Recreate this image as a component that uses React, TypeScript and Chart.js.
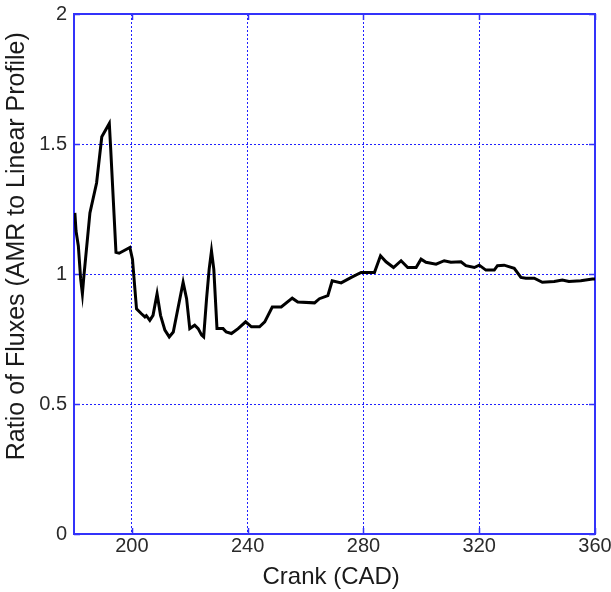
import React, { useEffect, useRef } from "react";
import { Chart, registerables } from "chart.js";

Chart.register(...registerables);

// Crank angle (CAD)
const crankAngles = [
  180.3, 180.7, 181.5, 182.3, 182.9, 183.4, 185.5, 187.8, 189.6, 192.2,
  192.7, 194.5, 195.6, 199.3, 200.2, 201.6, 203.3, 204.5, 205.0, 206.2,
  207.3, 208.7, 209.9, 211.4, 212.9, 214.3, 217.7, 218.9, 220.0, 221.7,
  222.9, 224.1, 224.8, 225.8, 226.7, 227.5, 228.3, 229.4, 231.5, 232.6,
  234.4, 236.7, 239.3, 241.3, 244.1, 245.9, 248.5, 251.6, 255.4, 257.3,
  263.1, 264.8, 267.7, 269.2, 272.3, 275.8, 279.2, 283.8, 285.9, 287.8,
  290.4, 293.0, 295.3, 298.2, 299.9, 301.6, 305.1, 307.9, 310.2, 313.7,
  315.4, 318.3, 320.0, 322.3, 325.2, 326.3, 328.6, 332.1, 334.4, 336.1,
  339.0, 341.8, 345.9, 348.7, 351.0, 355.1, 359.1, 360.0,
];

// Ratio of fluxes (AMR to linear profile)
const fluxRatios = [
  1.235, 1.165, 1.108, 0.981, 0.924, 0.99, 1.235, 1.35, 1.528, 1.579,
  1.477, 1.083, 1.08, 1.102, 1.057, 0.866, 0.847, 0.835, 0.84, 0.822,
  0.841, 0.924, 0.841, 0.784, 0.758, 0.777, 0.968, 0.905, 0.79, 0.803,
  0.79, 0.765, 0.758, 0.905, 1.019, 1.089, 1.019, 0.79, 0.79, 0.777,
  0.771, 0.79, 0.816, 0.797, 0.797, 0.816, 0.873, 0.873, 0.907, 0.892,
  0.889, 0.905, 0.917, 0.974, 0.966, 0.987, 1.006, 1.006, 1.07, 1.047,
  1.025, 1.051, 1.025, 1.025, 1.057, 1.045, 1.038, 1.051, 1.045, 1.047,
  1.032, 1.025, 1.034, 1.015, 1.015, 1.032, 1.034, 1.022, 0.987, 0.984,
  0.984, 0.968, 0.971, 0.977, 0.971, 0.974, 0.981, 0.981,
];

const xTickValues = [200, 240, 280, 320, 360];
const yTickValues = [0, 0.5, 1, 1.5, 2];
const xRange = [180, 360];
const yRange = [0, 2];

const xTitle = "Crank (CAD)";
const yTitle = "Ratio of Fluxes (AMR to Linear Profile)";

const AXIS_BLUE = "rgb(50,50,250)";
const GRID_BLUE = "rgb(30,30,255)";
const FONT = "'Liberation Sans', Arial, Helvetica, sans-serif";

const boxPlugin = {
  id: "matlabBox",
  beforeDatasetsDraw(chart: any) {
    const { ctx, chartArea: a, scales } = chart;
    ctx.save();
    ctx.strokeStyle = AXIS_BLUE;
    ctx.lineWidth = 1.5;
    ctx.setLineDash([]);
    ctx.beginPath();
    const tl = 6;
    for (const v of xTickValues) {
      const px = Math.round(scales.x.getPixelForValue(v)) + 0.5;
      ctx.moveTo(px, a.bottom);
      ctx.lineTo(px, a.bottom - tl);
      ctx.moveTo(px, a.top);
      ctx.lineTo(px, a.top + tl);
    }
    for (const v of yTickValues) {
      const py = Math.round(scales.y.getPixelForValue(v)) + 0.5;
      ctx.moveTo(a.left, py);
      ctx.lineTo(a.left + tl, py);
      ctx.moveTo(a.right, py);
      ctx.lineTo(a.right - tl, py);
    }
    ctx.stroke();
    ctx.lineWidth = 2;
    ctx.strokeRect(a.left, a.top, a.right - a.left, a.bottom - a.top);
    ctx.restore();
  },
};

export default function App() {
  const canvasRef = useRef<HTMLCanvasElement | null>(null);

  useEffect(() => {
    if (!canvasRef.current) return;
    const chart = new Chart(canvasRef.current, {
      type: "line",
      data: {
        datasets: [
          {
            data: crankAngles.map((x, i) => ({ x, y: fluxRatios[i] })),
            borderColor: "#000",
            borderWidth: 3,
            pointRadius: 0,
            tension: 0,
            fill: false,
          },
        ],
      },
      options: {
        animation: false,
        responsive: false,
        devicePixelRatio: 1,
        layout: { padding: { top: 14, right: 16, bottom: 0, left: 0 } },
        plugins: { legend: { display: false }, tooltip: { enabled: false } },
        scales: {
          x: {
            type: "linear",
            min: xRange[0],
            max: xRange[1],
            afterBuildTicks: (s: any) => {
              s.ticks = xTickValues.map((v) => ({ value: v }));
            },
            afterFit: (s: any) => {
              s.height = 58;
              s.paddingLeft = 0;
              s.paddingRight = 0;
            },
            grid: { color: GRID_BLUE, lineWidth: 1, drawTicks: false },
            border: { display: false, dash: [2, 2] },
            ticks: {
              padding: 0,
              maxRotation: 0,
              autoSkip: false,
              color: "#2a2a2a",
              font: { family: FONT, size: 20 },
            },
            title: {
              display: true,
              text: xTitle + " ",
              color: "#1a1a1a",
              font: { family: FONT, size: 24 },
              padding: { top: 0, bottom: 0 },
            },
          },
          y: {
            type: "linear",
            min: yRange[0],
            max: yRange[1],
            afterBuildTicks: (s: any) => {
              s.ticks = yTickValues.map((v) => ({ value: v }));
            },
            afterFit: (s: any) => {
              s.width = 74;
              s.paddingTop = 0;
              s.paddingBottom = 0;
            },
            grid: { color: GRID_BLUE, lineWidth: 1, drawTicks: false },
            border: { display: false, dash: [2, 2] },
            ticks: {
              padding: 7,
              color: "#2a2a2a",
              font: { family: FONT, size: 20 },
              callback: (v: any) => String(v),
            },
            title: {
              display: true,
              text: "        " + yTitle,
              color: "#1a1a1a",
              font: { family: FONT, size: 25 },
              padding: { top: 2, bottom: 0 },
            },
          },
        },
      },
      plugins: [boxPlugin],
    });
    return () => chart.destroy();
  }, []);

  return (
    <div style={{ position: "absolute", left: 0, top: 0, width: 611, height: 592, background: "#fff" }}>
      <canvas ref={canvasRef} width={611} height={592} style={{ display: "block" }} />
    </div>
  );
}
